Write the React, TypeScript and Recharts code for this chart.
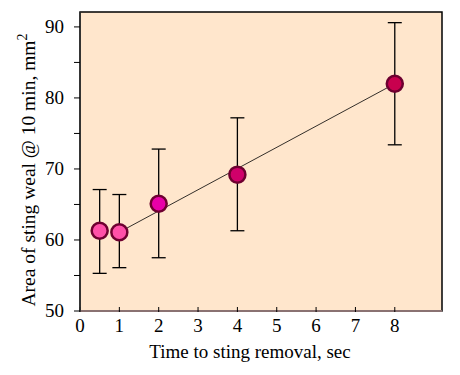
import { ComposedChart, Scatter, Line, XAxis, YAxis, ErrorBar, Cell, ReferenceArea } from "recharts";

// Time to sting removal (sec) vs weal area after 10 min (mm^2)
const times = [0.5, 1, 2, 4, 8];
const areas = [61.3, 61.1, 65.1, 69.2, 82.0];
const lowerErr = [6.0, 5.0, 7.6, 7.9, 8.6];
const upperErr = [5.8, 5.3, 7.7, 8.0, 8.6];
const pointColors = ["#ff50a8", "#ff50a8", "#e800a8", "#d0006a", "#c8004e"];

// fitted trend line end points
const fitTimes = [1, 8];
const fitAreas = [61.1, 82.0];

const xTicks = [0, 1, 2, 3, 4, 5, 6, 7, 8];
const yTicks = [50, 55, 60, 65, 70, 75, 80, 85, 90];

const points = times.map((t, i) => ({ x: t, y: areas[i], err: [lowerErr[i], upperErr[i]] }));
const fit = fitTimes.map((t, i) => ({ x: t, y: fitAreas[i] }));

const font = "Liberation Serif";

const renderXTick = (props: any) => {
  const { x, y, payload } = props;
  return (
    <text x={x} y={y + 14} textAnchor="middle" fontSize={19} fontFamily={font} fill="#000">
      {String(payload.value)}
    </text>
  );
};

const renderYTick = (props: any) => {
  const { x, y, payload } = props;
  if (payload.value % 10 !== 0) return <g />;
  return (
    <text x={x - 8} y={y + 6} textAnchor="end" fontSize={19} fontFamily={font} fill="#000">
      {String(payload.value)}
    </text>
  );
};

export default function App() {
  return (
    <div style={{ position: "absolute", left: 0, top: 0, background: "#fff", fontFamily: font }}>
      <ComposedChart width={460} height={375} margin={{ top: 12, right: 18, left: 0, bottom: 0 }}>
        <ReferenceArea x1={0} x2={9.2} y1={50} y2={92.1} fill="#ffe6cc" fillOpacity={1} stroke="#000" strokeWidth={1.5} ifOverflow="extendDomain" />
        <XAxis
          type="number"
          dataKey="x"
          domain={[0, 9.2]}
          ticks={xTicks}
          allowDataOverflow
          height={64}
          stroke="#8a7272"
          strokeWidth={2}
          tickSize={5}
          tickLine={{ stroke: "#000", strokeWidth: 1, transform: "translate(0,-4)" }}
          tick={renderXTick}
        />
        <YAxis
          type="number"
          dataKey="y"
          domain={[50, 92.1]}
          ticks={yTicks}
          allowDataOverflow
          width={80}
          stroke="#333"
          strokeWidth={1.5}
          tickSize={6}
          tickLine={{ stroke: "#000", strokeWidth: 1 }}
          tick={renderYTick}
        />
        <Line data={fit} dataKey="y" stroke="#000" strokeWidth={0.8} dot={false} isAnimationActive={false} />
        <Scatter data={points} dataKey="y" isAnimationActive={false} shape={(p: any) => <circle cx={p.cx} cy={p.cy} r={8} fill={p.fill} stroke="#6e0030" strokeWidth={2.5} />}>
          <ErrorBar dataKey="err" direction="y" width={7} stroke="#000" strokeWidth={1.3} />
          {points.map((_, i) => (
            <Cell key={i} fill={pointColors[i]} />
          ))}
        </Scatter>
        <text x={250} y={358} textAnchor="middle" style={{ fontSize: 19, fontFamily: font, fill: "#000" }}>
          Time to sting removal, sec
        </text>
        <text x={35} y={170} textAnchor="middle" transform="rotate(-90 35 170)" style={{ fontSize: 19.5, fontFamily: font, fill: "#000" }}>
          Area of sting weal @ 10 min, mm
          <tspan style={{ fontSize: 14 }} dy={-8}>2</tspan>
        </text>
      </ComposedChart>
    </div>
  );
}
